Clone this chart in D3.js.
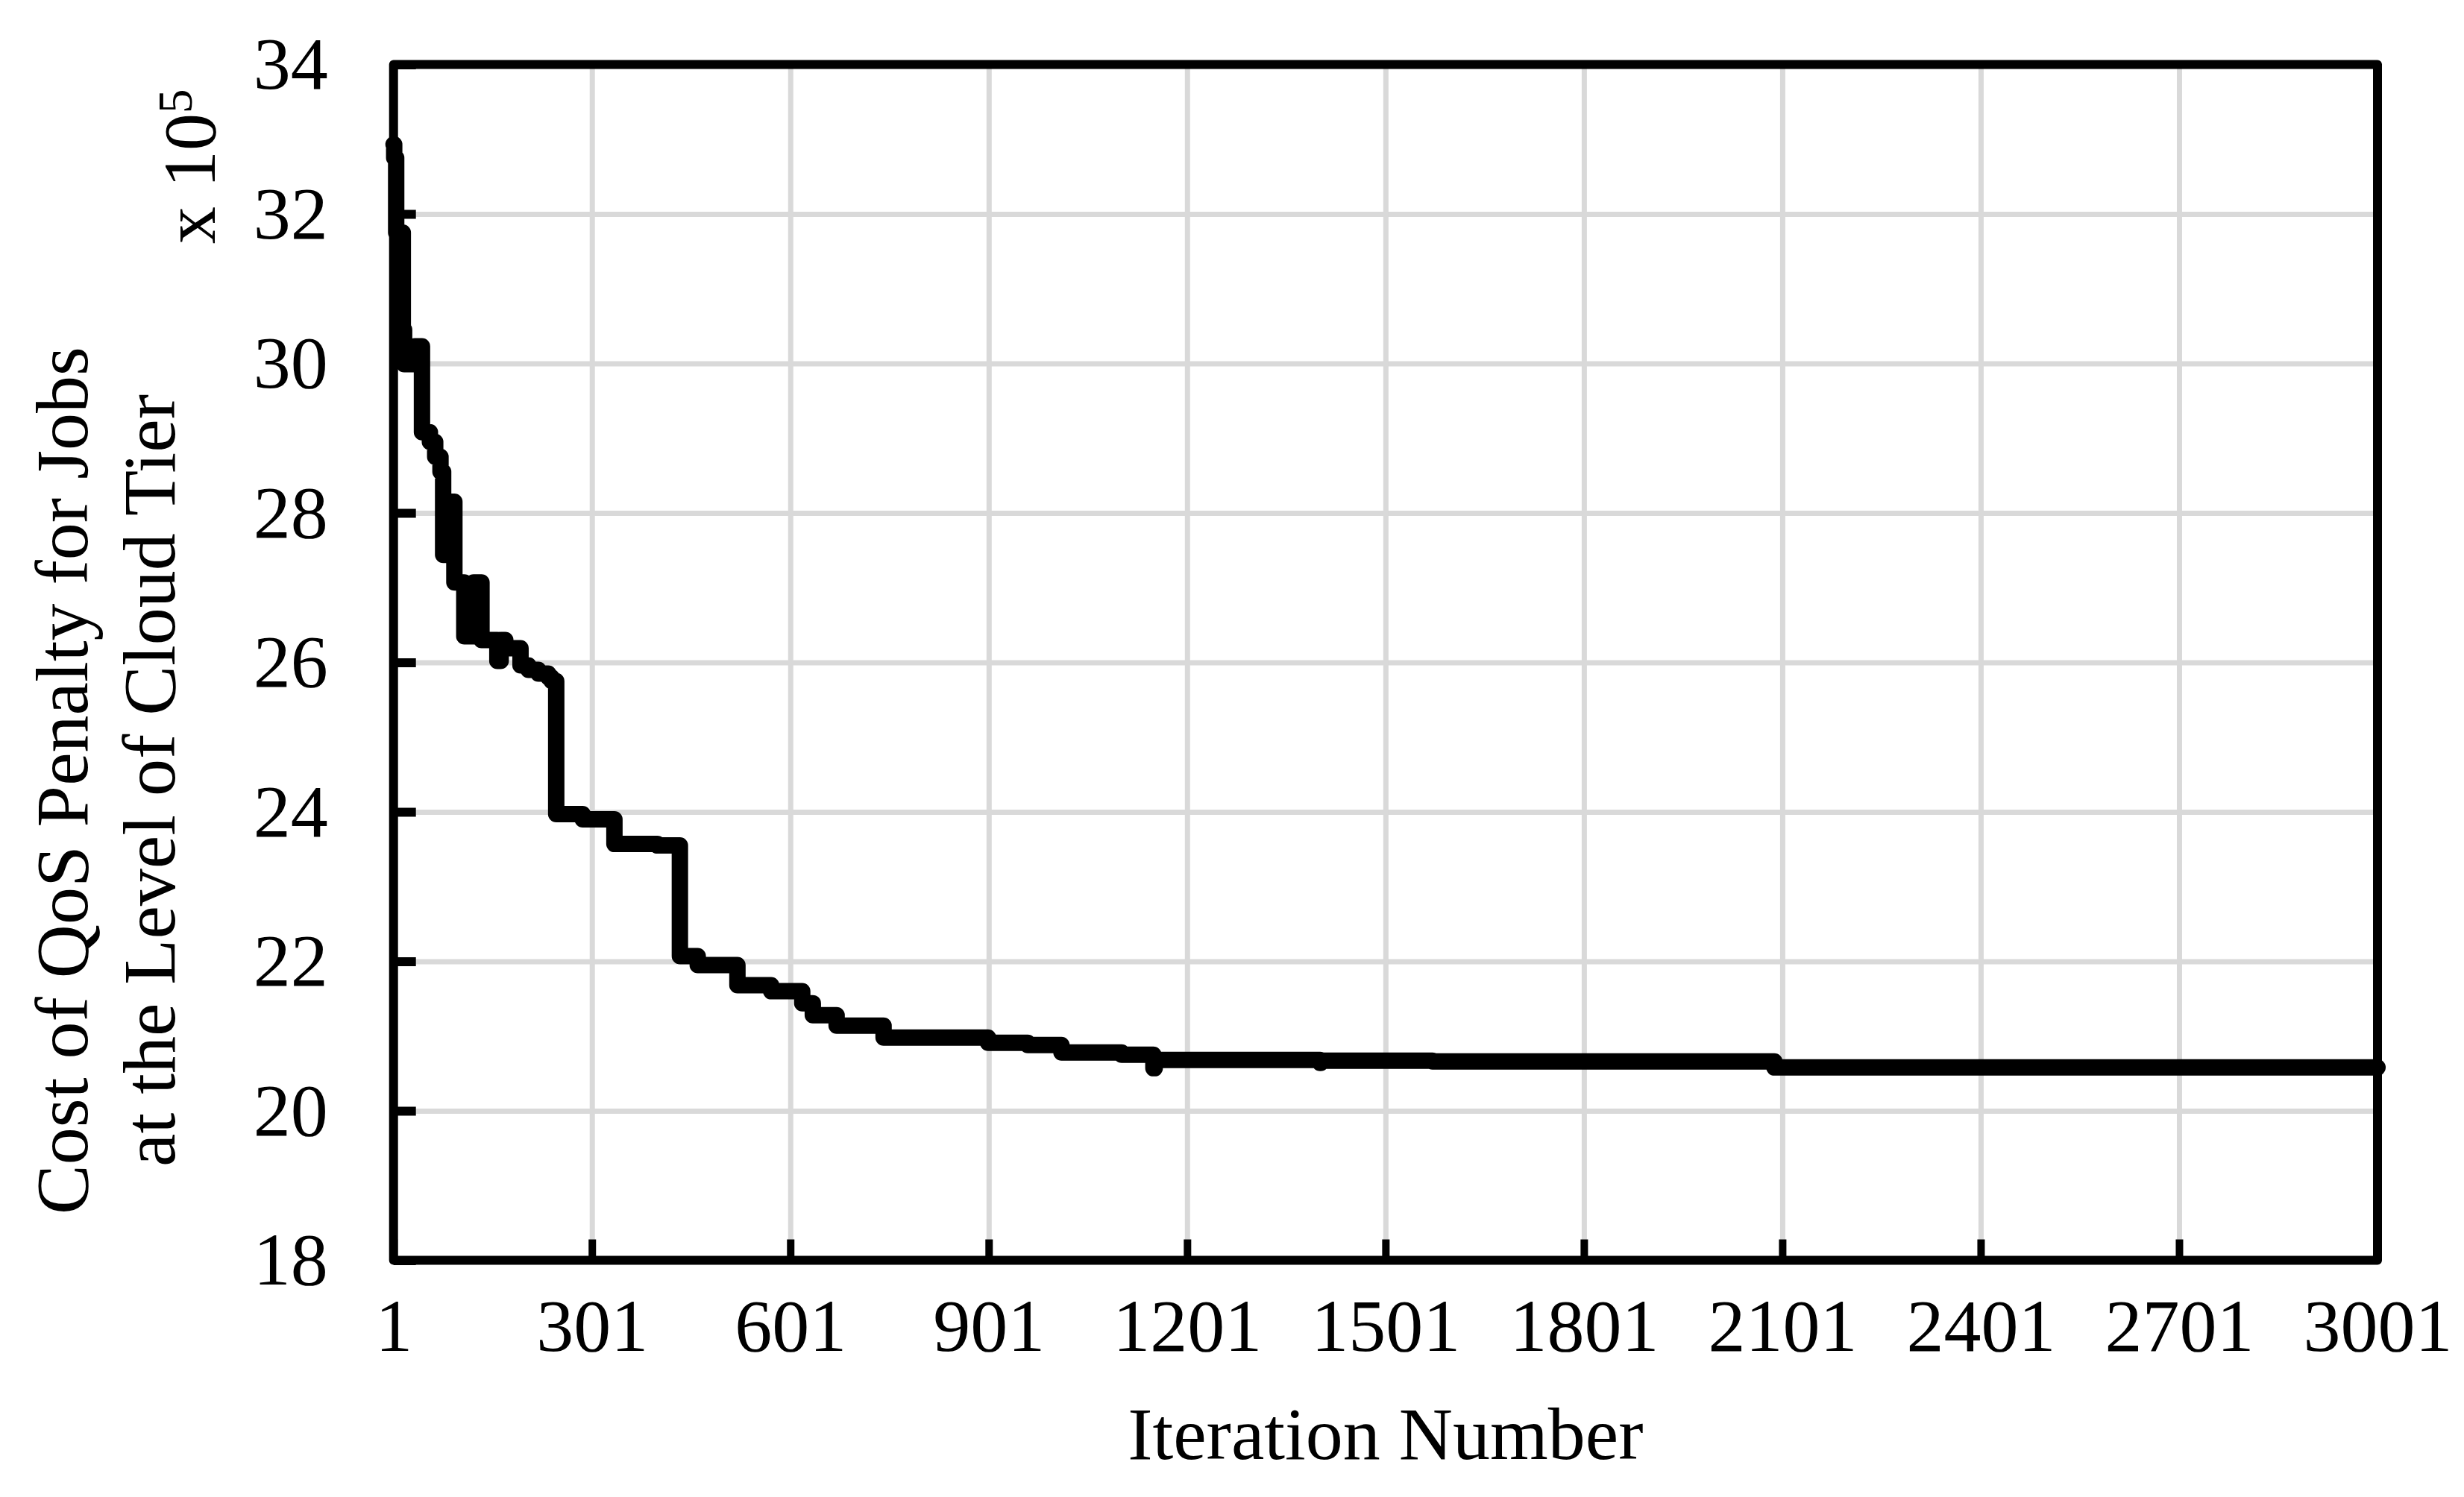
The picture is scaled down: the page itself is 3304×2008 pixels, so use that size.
<!DOCTYPE html>
<html>
<head>
<meta charset="utf-8">
<script src="https://cdn.jsdelivr.net/npm/d3@7"></script>
<style>
  html, body { margin: 0; padding: 0; background: #ffffff; }
  svg { display: block; }
  text { font-family: "Liberation Serif", "Times New Roman", serif; fill: #000; }
</style>
</head>
<body>
<script>
// ---- Data ----
// Breakpoints of the step curve: iteration at which the value changes, and the new value (x 10^5)
const iterations = [1, 2, 5, 15, 17, 33, 44, 56, 64, 72, 76, 82, 93, 108, 122, 134, 158, 163, 170, 193, 205, 220, 235, 240,
                    247, 287, 335, 400, 434, 461, 521, 572, 619, 635, 671, 742, 900, 960, 1011, 1102, 1150, 1152, 1402, 1403, 1572, 2089, 3001];
const costValues = [32.93, 32.75, 31.75, 30.45, 29.99, 30.23, 29.08, 28.95, 28.75, 28.55, 27.44, 28.15, 27.07, 26.35, 27.07, 26.3, 26.02, 26.3, 26.19, 25.96, 25.9, 25.85, 25.8, 25.75,
                    23.97, 23.9, 23.57, 23.55, 22.07, 21.95, 21.68, 21.6, 21.44, 21.28, 21.14, 20.98, 20.91, 20.88, 20.78, 20.75, 20.57, 20.68, 20.64, 20.67, 20.66, 20.58, 20.58];
const xTickValues = [1, 301, 601, 901, 1201, 1501, 1801, 2101, 2401, 2701, 3001];
const yTickValues = [18, 20, 22, 24, 26, 28, 30, 32, 34];
const xTitle = "Iteration Number";
const yTitleLines = ["Cost of QoS Penalty for Jobs", "at the Level of Cloud Tier"];

(function () {
  // ---- Layout ----
  const W = 3304, H = 2008;
  const pL = 527.7, pR = 3188, pT = 86.5, pB = 1690.5;
  const FONT = 100;
  const FAM = "Liberation Serif, Times New Roman, serif";

  const svg = d3.select("body").append("svg").attr("width", W).attr("height", H);

  const x = d3.scaleLinear().domain([1, 3001]).range([pL, pR]);
  const y = d3.scaleLinear().domain([18, 34]).range([pB, pT]);

  // Gridlines
  const gridY = svg.append("g").attr("transform", `translate(${pL},0)`)
    .call(d3.axisLeft(y).tickValues(yTickValues.slice(1, -1)).tickSize(-(pR - pL)).tickFormat(""));
  gridY.select(".domain").remove();
  gridY.selectAll("line").attr("stroke", "#d9d9d9").attr("stroke-width", 7);

  const gridX = svg.append("g").attr("transform", `translate(0,${pB})`)
    .call(d3.axisBottom(x).tickValues(xTickValues.slice(1, -1)).tickSize(-(pB - pT)).tickFormat(""));
  gridX.select(".domain").remove();
  gridX.selectAll("line").attr("stroke", "#d9d9d9").attr("stroke-width", 7);

  // Frame
  svg.append("rect").attr("x", pL).attr("y", pT)
    .attr("width", pR - pL).attr("height", pB - pT)
    .attr("fill", "none").attr("stroke", "#000").attr("stroke-width", 12).attr("stroke-linejoin", "round");

  // Axes with inward ticks
  const axY = svg.append("g").attr("transform", `translate(${pL},0)`)
    .call(d3.axisLeft(y).tickValues(yTickValues).tickSize(-30).tickPadding(88).tickFormat(d3.format("d")));
  axY.select(".domain").remove();
  axY.selectAll("line").attr("stroke", "#000").attr("stroke-width", 12);
  axY.selectAll("text").attr("font-size", FONT).attr("font-family", FAM).attr("fill", "#000");

  const axX = svg.append("g").attr("transform", `translate(0,${pB})`)
    .call(d3.axisBottom(x).tickValues(xTickValues).tickSize(-28).tickPadding(50).tickFormat(d3.format("d")));
  axX.select(".domain").remove();
  axX.selectAll("line").attr("stroke", "#000").attr("stroke-width", 10);
  axX.selectAll("text").attr("font-size", FONT).attr("font-family", FAM).attr("fill", "#000");

  // Data line
  const data = iterations.map((it, i) => ({ it, v: costValues[i] }));
  const line = d3.line().x(d => x(d.it)).y(d => y(d.v)).curve(d3.curveStepAfter);
  svg.append("path").datum(data)
    .attr("d", line)
    .attr("fill", "none").attr("stroke", "#000").attr("stroke-width", 22)
    .attr("stroke-linejoin", "round").attr("stroke-linecap", "round");

  // X title
  svg.append("text").attr("x", (pL + pR) / 2).attr("y", 1957)
    .attr("text-anchor", "middle").attr("font-size", FONT).text(xTitle);

  // Y title (two lines)
  const yt = [117, 234];
  yTitleLines.forEach((t, i) => {
    svg.append("text")
      .attr("transform", `translate(${yt[i]},1047) rotate(-90)`)
      .attr("text-anchor", "middle").attr("font-size", FONT).text(t);
  });

  // Multiplier label "x 10^5"
  const mult = svg.append("text")
    .attr("transform", `translate(288,327) rotate(-90)`)
    .attr("font-size", FONT);
  mult.append("tspan").text("x 10");
  mult.append("tspan").attr("font-size", 65).attr("dy", -31).text("5");
})();
</script>
</body>
</html>
